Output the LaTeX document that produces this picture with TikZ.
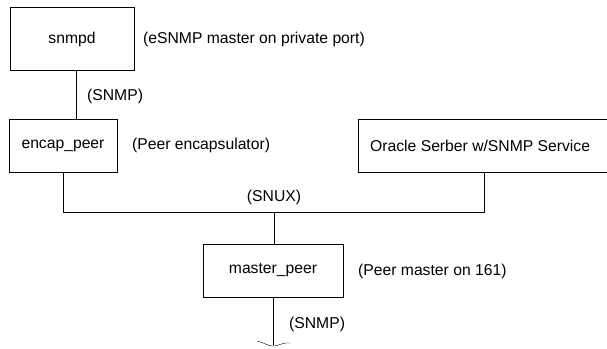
\documentclass[tikz,border=0pt]{standalone}
\usepackage{fontspec}
\setmainfont{Liberation Sans}
\begin{document}
\begin{tikzpicture}[x=1pt,y=-1pt,
        font=\fontsize{15.7}{18}\selectfont,
        box/.style={draw, rectangle, inner sep=0pt},
        note/.style={anchor=west, inner sep=0pt}]
        \useasboundingbox (0,0) rectangle (607,348);

        \node[box, minimum width=124pt, minimum height=63pt] (snmpd) at (72, 39) {snmpd};
        \node[box, minimum width=108pt, minimum height=53pt] (encap) at (63, 145.5) {encap\_peer};
        \node[box, minimum width=252pt, minimum height=53pt] (oracle) at (484, 145.5) {};
        \node[note] (oracletext) at (370, 145.5) {Oracle Serber w/SNMP Service};
        \node[box, minimum width=140pt, minimum height=53pt] (master) at (273, 270.5) {master\_peer};

        \node[note] (snmpdnote) at (143, 39) {(eSNMP master on private port)};
        \node[note] (snmp1) at (87, 96) {(SNMP)};
        \node[note] (encapnote) at (132, 145.5) {(Peer encapsulator)};
        \node (snux) at (274, 197) {(SNUX)};
        \node[note] (masternote) at (358, 271) {(Peer master on 161)};
        \node[note] (snmp2) at (289, 324) {(SNMP)};

        \coordinate (bus) at (274, 212);
        \coordinate (lbus) at (63, 212);
        \coordinate (rbus) at (484, 212);
        \coordinate (tail) at (273, 345);

        \draw ([xshift=4pt]snmpd.south) -- ([xshift=4pt]snmpd.south |- encap.north);
        \draw (encap.south) -- (lbus) -- (rbus) -- (rbus |- oracle.south);
        \draw (bus) -- (bus |- master.north);
        \draw (master.south) -- (tail);
        \draw (257,341) .. controls (265,343) and (268,346) .. (273,346)
                        .. controls (279,346) and (283,342) .. (290,343);

    \end{tikzpicture}
\end{document}
